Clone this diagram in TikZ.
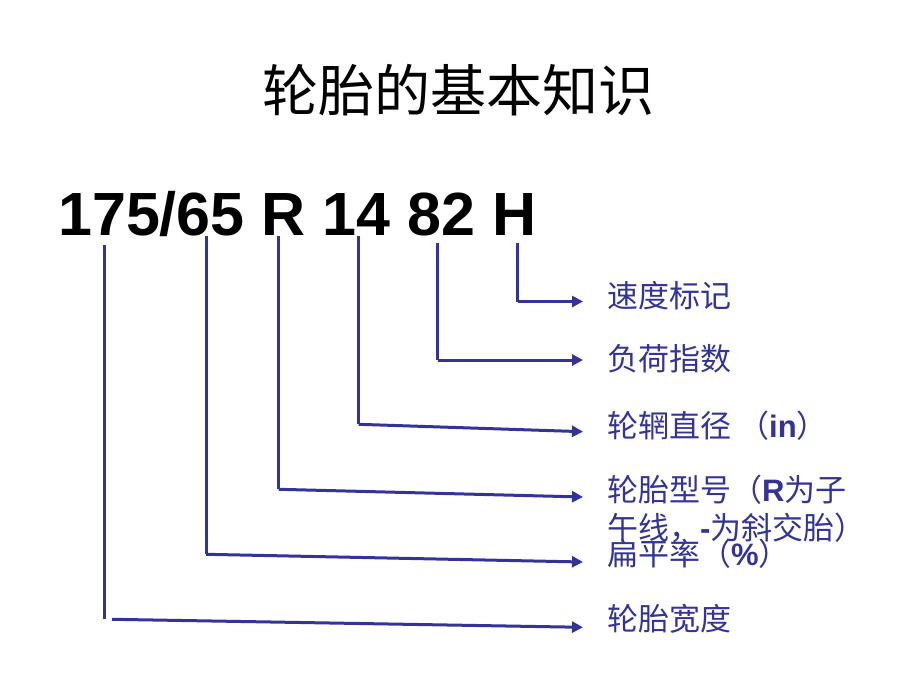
\documentclass[tikz,border=0pt]{standalone}
\usepackage{fontspec}
\setmainfont{Noto Sans CJK SC}
\newfontfamily\cjk{Noto Sans CJK SC}
\newfontfamily\lat{Liberation Sans}
\usetikzlibrary{arrows.meta}
\definecolor{navy}{HTML}{333399}
\begin{document}
\begin{tikzpicture}[x=1pt,y=-1pt,
  conn/.style={draw=navy,line width=3pt},
  arr/.style={conn,-{Triangle[length=11pt,width=11pt]}},
  lbl/.style={anchor=base west,inner sep=0pt,text=navy,font=\cjk\fontsize{31}{38}\selectfont},
  ttl/.style={anchor=base,inner sep=0pt,font=\cjk\fontsize{56}{60}\selectfont},
  code/.style={anchor=base west,inner sep=0pt,font=\lat\bfseries\fontsize{61}{64}\selectfont}]
\useasboundingbox (0,0) rectangle (920,690);
\node[ttl] (title) at (458,111) {轮胎的基本知识};
\node[code] (code) at (58,235) {175/65 R 14 82 H};
% tops of leader lines
\coordinate (tH) at (517.7,243);
\coordinate (t82) at (437.7,243);
\coordinate (t14) at (358.7,236);
\coordinate (tR) at (278.7,236);
\coordinate (t65) at (206,236);
\coordinate (t175) at (104.7,245);
% corners
\coordinate (cH) at (517.7,301.5);
\coordinate (c82) at (437.7,360);
\coordinate (c14) at (358.7,424.3);
\coordinate (cR) at (278.7,489.3);
\coordinate (c65) at (206,554.3);
\coordinate (c175) at (104.7,619.3);
\coordinate (s175) at (112,619.3);
% arrow tips
\coordinate (eH) at (583,301.5);
\coordinate (e82) at (583,360);
\coordinate (e14) at (583,431.7);
\coordinate (eR) at (583,497);
\coordinate (e65) at (583,562);
\coordinate (e175) at (583,627.3);
% labels
\node[lbl] (lH) at (607,307.5) {速度标记};
\node[lbl] (l82) at (607,370) {负荷指数};
\node[lbl] (l14) at (607,437.5) {轮辋直径 （{\lat\bfseries in}）};
\node[lbl] (lR1) at (607,501.5) {轮胎型号（{\lat\bfseries R}为子};
\node[lbl] (lR2) at (607,539.5) {午线，{\lat\bfseries -}为斜交胎）};
\node[lbl] (l65) at (607,565.5) {扁平率（{\lat\bfseries \%}）};
\node[lbl] (l175) at (607,630) {轮胎宽度};
% connectors
\draw[conn] (tH) -- (cH);
\draw[arr] (cH) -- (eH);
\draw[conn] (t82) -- (c82);
\draw[arr] (c82) -- (e82);
\draw[conn] (t14) -- (c14);
\draw[arr] (c14) -- (e14);
\draw[conn] (tR) -- (cR);
\draw[arr] (cR) -- (eR);
\draw[conn] (t65) -- (c65);
\draw[arr] (c65) -- (e65);
\draw[conn] (t175) -- (c175);
\draw[arr] (s175) -- (e175);
\end{tikzpicture}
\end{document}
